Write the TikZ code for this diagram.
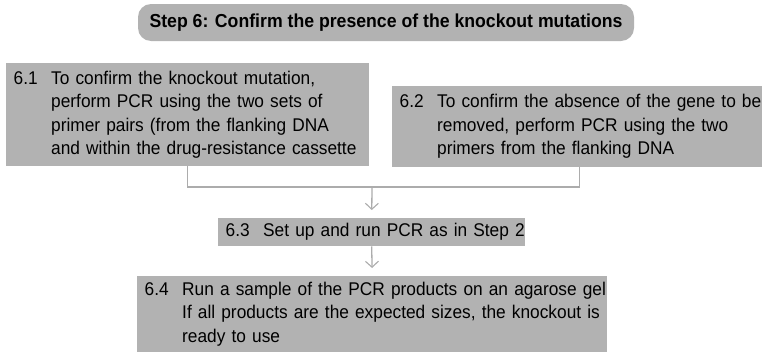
\documentclass[tikz,border=0pt]{standalone}
\usepackage{fontspec}
\setmainfont{Liberation Sans}[FakeStretch=0.94]
\usepackage{tikz}
\usetikzlibrary{arrows.meta}
\definecolor{boxgray}{RGB}{178,178,178}
\definecolor{linegray}{RGB}{172,172,172}
\newcommand{\numbered}[2]{\begin{tabular}{@{}p{37.5pt}@{}l@{}}#1 & #2\end{tabular}}
\tikzset{b/.style={fill=boxgray, anchor=north west, inner xsep=7.5pt, inner ysep=0pt,
    align=left, font=\fontsize{18.4}{23.5}\selectfont}}
\tikzset{t/.style={fill=boxgray, rounded corners=13pt, minimum width=496pt, minimum height=37pt,
    font=\fontsize{18.8}{20}\selectfont\bfseries}}
\tikzset{c/.style={draw=linegray, line width=1.3pt}}
\tikzset{a/.style={c, -{Straight Barb[length=6pt, width=13pt, line width=1.1pt]}, shorten >=8pt}}

\begin{document}
\begin{tikzpicture}[x=1pt, y=-1pt]
        \useasboundingbox (0,0) rectangle (762,351);
        \node[t] (S6) at (386,22.5) {Step 6: Confirm the presence of the knockout mutations};
        \node[b, text width=348pt, minimum height=103pt] (S61) at (6,63)
          {\numbered{6.1}{To confirm the knockout mutation,\\ & perform PCR using the two sets of\\
           & primer pairs (from the flanking DNA\\ & and within the drug-resistance cassette}};
        \node[b, text width=359pt, minimum height=81pt] (S62) at (392,86)
          {\numbered{6.2}{To confirm the absence of the gene to be\\ & removed, perform PCR using the two\\
           & primers from the flanking DNA}};
        \node[b, text width=292pt, minimum height=28pt] (S63) at (218,218)
          {\numbered{6.3}{Set up and run PCR as in Step 2}};
        \node[b, text width=455pt, minimum height=76pt] (S64) at (137,276)
          {\numbered{6.4}{Run a sample of the PCR products on an agarose gel\\
           & If all products are the expected sizes, the knockout is\\ & ready to use}};
        \coordinate (J) at (372,187);
        \draw[c] (S61.south) |- (J) -| (S62.south);
        \draw[a] (J) -- (S63.north);
        \draw[a] (S63.south) -- (S64.north);
      \end{tikzpicture}
\end{document}
